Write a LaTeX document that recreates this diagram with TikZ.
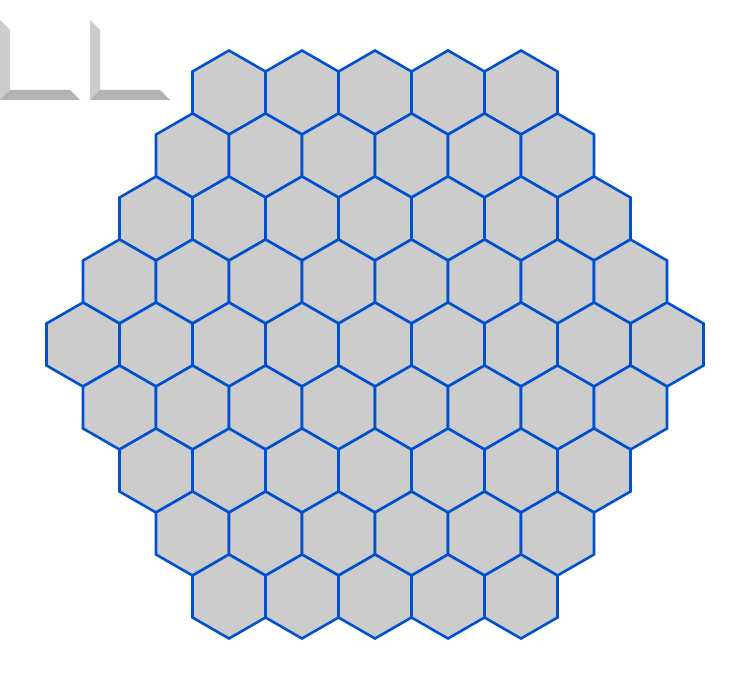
\documentclass[tikz,border=0pt]{standalone}
\definecolor{hexfill}{HTML}{CCCCCC}
\definecolor{hexline}{HTML}{0050D0}
\definecolor{bevlight}{HTML}{CCCCCC}
\definecolor{bevdark}{HTML}{B3B3B3}
\tikzset{
  hexcell/.style={fill=hexfill, draw=hexline, line width=2.6bp, line join=miter},
  bevstrip/.style={fill=bevlight},
  bevbar/.style={fill=bevdark}
}
\begin{document}
\begin{tikzpicture}[x=1bp,y=-1bp]
\useasboundingbox (0,0) rectangle (750,690);
% bevel L shapes
\foreach \ox in {0,90}{
  \fill[bevstrip] (\ox,20) -- (\ox+10,30) -- (\ox+10,90) -- (\ox,100) -- cycle;
  \fill[bevbar] (\ox,100) -- (\ox+10,90) -- (\ox+70,90) -- (\ox+80,100) -- cycle;
}
% hex grid
\foreach \r in {0,...,8}{
  \pgfmathtruncatemacro{\n}{9-abs(\r-4)}
  \pgfmathsetmacro{\cy}{92.5+63*\r}
  \pgfmathsetmacro{\xs}{375-(\n-1)*36.5}
  \foreach \i in {1,...,\n}{
    \pgfmathsetmacro{\cx}{\xs+(\i-1)*73}
    \draw[hexcell] (\cx,\cy-42) -- (\cx+36.5,\cy-21) -- (\cx+36.5,\cy+21)
      -- (\cx,\cy+42) -- (\cx-36.5,\cy+21) -- (\cx-36.5,\cy-21) -- cycle;
  }
}
\end{tikzpicture}
\end{document}
